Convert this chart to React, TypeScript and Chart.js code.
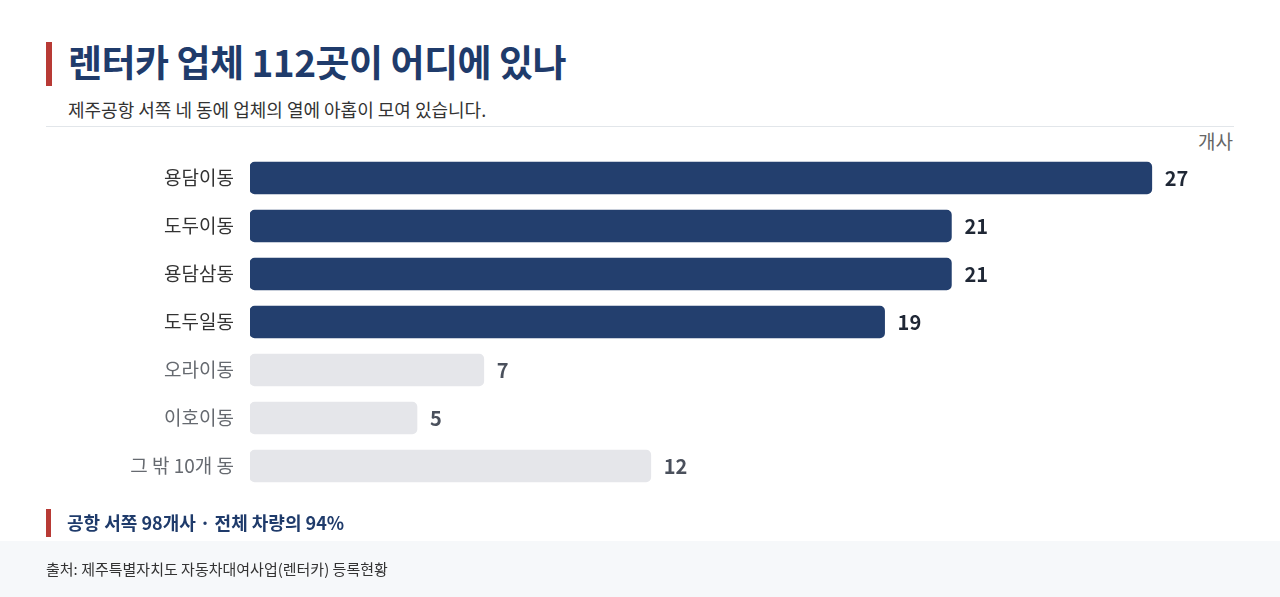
import { useEffect, useRef } from 'react'
import Chart from 'chart.js/auto'

const categories = ['용담이동', '도두이동', '용담삼동', '도두일동', '오라이동', '이호이동', '그 밖 10개 동']
const counts = [27, 21, 21, 19, 7, 5, 12]
const highlighted = [true, true, true, true, false, false, false]

const FONT = '"Noto Sans CJK KR", "Noto Sans", sans-serif'
const NAVY = '#233f6e'
const GRAY_BAR = '#e5e6ea'

export default function App() {
  const chartRef = useRef<HTMLCanvasElement>(null)
  const chartInstance = useRef<Chart | null>(null)

  useEffect(() => {
    if (!chartRef.current) return
    if (chartInstance.current) chartInstance.current.destroy()

    // value labels at the end of each bar
    const valueLabels = {
      id: 'valueLabels',
      afterDatasetsDraw(chart: any) {
        const ctx = chart.ctx
        const meta = chart.getDatasetMeta(0)
        ctx.save()
        ctx.font = `bold 20px ${FONT}`
        ctx.textBaseline = 'middle'
        ctx.textAlign = 'left'
        meta.data.forEach((bar: any, i: number) => {
          ctx.fillStyle = highlighted[i] ? '#1f2735' : '#4a505c'
          ctx.fillText(String(counts[i]), bar.x + 13, bar.y)
        })
        ctx.restore()
      }
    }

    chartInstance.current = new Chart(chartRef.current, {
      type: 'bar',
      data: {
        labels: categories,
        datasets: [{
          data: counts,
          backgroundColor: highlighted.map(h => (h ? NAVY : GRAY_BAR)),
          borderRadius: 5,
          borderSkipped: false,
          barThickness: 32
        }]
      },
      options: {
        indexAxis: 'y',
        animation: false,
        responsive: false,
        layout: { padding: { top: 24, bottom: 20, left: 0, right: 28 } },
        plugins: {
          legend: { display: false },
          tooltip: { enabled: false }
        },
        scales: {
          x: {
            display: false,
            min: 0,
            max: 30
          },
          y: {
            grid: { display: false, drawTicks: false },
            border: { display: false },
            afterFit: (scale: any) => {
              scale.width = 250
              // labels sit inside the band, no extra room needed
              scale.paddingTop = 0
              scale.paddingBottom = 0
            },
            ticks: {
              padding: 16,
              font: { family: FONT, size: 19 },
              color: (c: any) => (highlighted[c.index] ? '#333333' : '#666a70')
            }
          }
        }
      },
      plugins: [valueLabels]
    })

    return () => {
      if (chartInstance.current) {
        chartInstance.current.destroy()
        chartInstance.current = null
      }
    }
  }, [])

  return (
    <div style={{ position: 'absolute', left: 0, top: 0, width: 1280, height: 597, background: '#fff', fontFamily: FONT, overflow: 'hidden' }}>
      <div style={{ position: 'absolute', left: 46, top: 42, width: 6, height: 44, background: '#b83a35' }} />
      <div style={{ position: 'absolute', left: 68, top: 35, fontSize: 37, fontWeight: 700, color: '#1f3b6b', lineHeight: '52px', letterSpacing: -0.5 }}>
        렌터카 업체 112곳이 어디에 있나
      </div>
      <div style={{ position: 'absolute', left: 68, top: 96, fontSize: 18, color: '#333', lineHeight: '26px' }}>
        제주공항 서쪽 네 동에 업체의 열에 아홉이 모여 있습니다.
      </div>
      <div style={{ position: 'absolute', left: 46, top: 126, width: 1188, height: 1, background: '#e2e6ea' }} />
      <div style={{ position: 'absolute', right: 47, top: 128, fontSize: 19, color: '#666', lineHeight: '26px' }}>개사</div>
      <canvas ref={chartRef} width={1280} height={380} style={{ position: 'absolute', left: 0, top: 130, width: 1280, height: 380 }} />
      <div style={{ position: 'absolute', left: 46, top: 509, width: 5, height: 28, background: '#b83a35' }} />
      <div style={{ position: 'absolute', left: 67, top: 508, fontSize: 18, fontWeight: 700, color: '#1f3b6b', lineHeight: '28px' }}>
        공항 서쪽 98개사 · 전체 차량의 94%
      </div>
      <div style={{ position: 'absolute', left: 0, top: 541, width: 1280, height: 56, background: '#f6f8fa' }} />
      <div style={{ position: 'absolute', left: 46, top: 557, fontSize: 15, color: '#333', lineHeight: '24px' }}>
        출처: 제주특별자치도 자동차대여사업(렌터카) 등록현황
      </div>
    </div>
  )
}
